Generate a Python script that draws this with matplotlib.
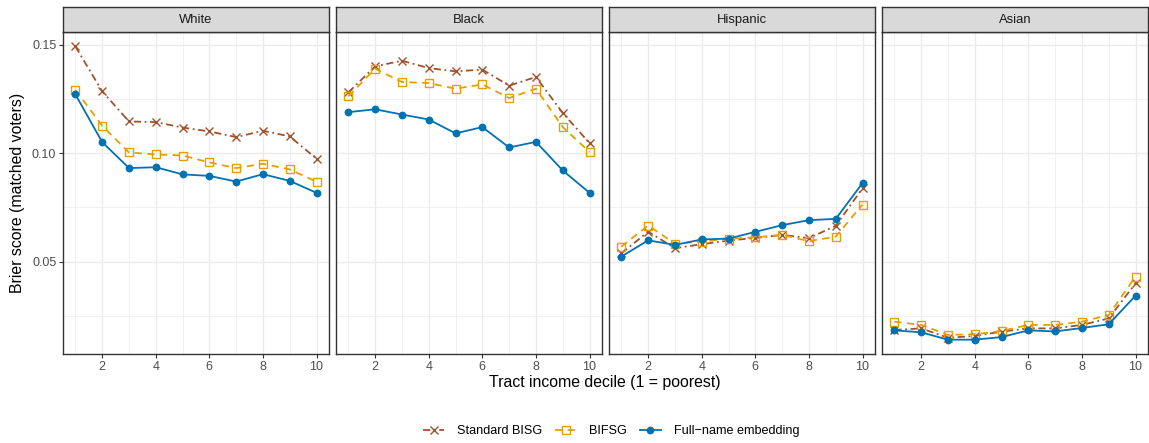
import numpy as np
import matplotlib.pyplot as plt
from matplotlib.lines import Line2D

plt.rcParams['font.family'] = ['Liberation Sans', 'DejaVu Sans']

deciles = np.arange(1, 11)
groups = ['White', 'Black', 'Hispanic', 'Asian']

# brier scores, one list per method and group
bisg = {
    'White':    [0.1492, 0.1285, 0.1146, 0.1143, 0.1118, 0.1100, 0.1074, 0.1103, 0.1077, 0.0974],
    'Black':    [0.1280, 0.1400, 0.1426, 0.1392, 0.1377, 0.1385, 0.1311, 0.1351, 0.1185, 0.1046],
    'Hispanic': [0.0538, 0.0638, 0.0562, 0.0580, 0.0597, 0.0609, 0.0623, 0.0608, 0.0665, 0.0838],
    'Asian':    [0.0185, 0.0192, 0.0149, 0.0157, 0.0177, 0.0192, 0.0192, 0.0208, 0.0238, 0.0400],
}
bifsg = {
    'White':    [0.1292, 0.1126, 0.1003, 0.0994, 0.0989, 0.0957, 0.0931, 0.0951, 0.0925, 0.0868],
    'Black':    [0.1262, 0.1389, 0.1328, 0.1323, 0.1297, 0.1317, 0.1254, 0.1297, 0.1120, 0.1005],
    'Hispanic': [0.0569, 0.0666, 0.0583, 0.0592, 0.0605, 0.0612, 0.0623, 0.0594, 0.0615, 0.0763],
    'Asian':    [0.0223, 0.0208, 0.0162, 0.0165, 0.0180, 0.0208, 0.0208, 0.0223, 0.0254, 0.0431],
}
fullname = {
    'White':    [0.1271, 0.1051, 0.0931, 0.0935, 0.0902, 0.0895, 0.0869, 0.0903, 0.0872, 0.0817],
    'Black':    [0.1189, 0.1202, 0.1178, 0.1155, 0.1091, 0.1120, 0.1026, 0.1052, 0.0920, 0.0817],
    'Hispanic': [0.0523, 0.0598, 0.0577, 0.0602, 0.0606, 0.0637, 0.0668, 0.0691, 0.0697, 0.0862],
    'Asian':    [0.0183, 0.0174, 0.0140, 0.0140, 0.0152, 0.0183, 0.0178, 0.0194, 0.0211, 0.0343],
}

# label, data, colour, linestyle, marker, marker size, filled
methods = [
    ('Standard BISG', bisg, '#A0522D', (0, (4, 2, 1, 2)), 'x', 5.2, False),
    ('BIFSG', bifsg, '#E69F00', (0, (4, 3)), 's', 5.6, False),
    ('Full\u2212name embedding', fullname, '#0072B2', '-', 'o', 4.6, True),
]

W, H = 1149, 443
fig = plt.figure(figsize=(W / 100, H / 100), dpi=100)

left0 = 63.3
pw = 265.3
step = 273
ptop = 32.3
pbot = 354
strip_top = 7.3

for k, g in enumerate(groups):
    x0 = left0 + k * step
    ax = fig.add_axes([x0 / W, 1 - pbot / H, pw / W, (pbot - ptop) / H])
    ax.set_xlim(0.55, 10.45)
    ax.set_ylim(0.0074, 0.1557)
    ax.set_xticks([2, 4, 6, 8, 10])
    ax.set_xticks([1, 3, 5, 7, 9], minor=True)
    ax.set_yticks([0.05, 0.10, 0.15])
    ax.set_yticks([0.025, 0.075, 0.125], minor=True)
    ax.grid(True, which='major', color='#EBEBEB', lw=1.0, zorder=0)
    ax.grid(True, which='minor', color='#EBEBEB', lw=0.5, zorder=0)
    ax.set_axisbelow(True)
    for s in ax.spines.values():
        s.set_color('#333333')
        s.set_linewidth(1.0)
    ax.tick_params(which='major', length=3, width=0.8, color='#333333',
                   labelsize=9, labelcolor='#4D4D4D', pad=2)
    ax.tick_params(which='minor', length=0)
    if k == 0:
        ax.set_yticklabels(['0.05', '0.10', '0.15'])
        ax.set_ylabel('Brier score (matched voters)', fontsize=11.4, labelpad=5)
    else:
        ax.tick_params(axis='y', which='major', left=False, labelleft=False)

    for name, data, col, ls, mk, ms, filled in methods:
        ax.plot(deciles, data[g], color=col, ls=ls, lw=1.3, marker=mk,
                markersize=ms, markerfacecolor=col if filled else 'none',
                markeredgewidth=1.0, zorder=3)

    # facet strip
    sax = fig.add_axes([x0 / W, 1 - ptop / H, pw / W, (ptop - strip_top) / H])
    sax.set_facecolor('#D9D9D9')
    sax.set_xticks([])
    sax.set_yticks([])
    for s in sax.spines.values():
        s.set_color('#333333')
        s.set_linewidth(1.0)
    sax.text(0.5, 0.5, g, ha='center', va='center', fontsize=9.4,
             color='#1A1A1A', transform=sax.transAxes)

fig.text(605 / W, 1 - 383 / H, 'Tract income decile (1 = poorest)',
         ha='center', va='center', fontsize=11.4)

handles = [Line2D([0], [0], color=col, ls=ls, lw=1.3, marker=mk, markersize=ms,
                  markerfacecolor=col if filled else 'none', markeredgewidth=1.0)
           for name, data, col, ls, mk, ms, filled in methods]
fig.legend(handles, [m[0] for m in methods], loc='center',
           bbox_to_anchor=(611 / W, 1 - 431 / H), ncol=3, frameon=False,
           fontsize=9.1, handlelength=1.7, columnspacing=1.0, handletextpad=1.0)

fig.savefig('out.png', dpi=100)
